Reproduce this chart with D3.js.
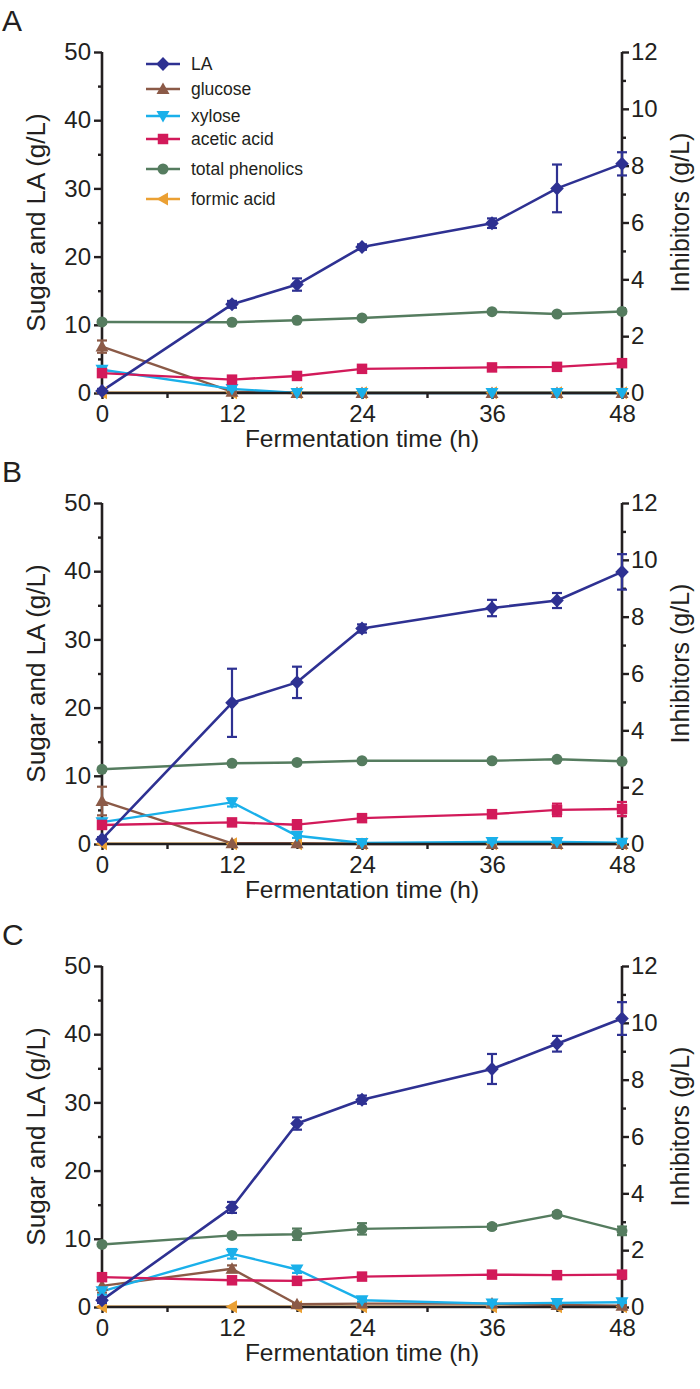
<!DOCTYPE html>
<html><head><meta charset="utf-8">
<script src="https://cdn.jsdelivr.net/npm/d3@7"></script>
<style>
html,body{margin:0;padding:0;background:#fff;}
svg text{font-family:"Liberation Sans",Arial,sans-serif;fill:#231f20;}
</style></head>
<body><svg id="chart" width="700" height="1389"></svg>
<script>
// ---------- data ----------
const times = [0, 12, 18, 24, 36, 42, 48];
const xTicks = [0, 12, 24, 36, 48];
const leftTicks = [0, 10, 20, 30, 40, 50];
const rightTicks = [0, 2, 4, 6, 8, 10, 12];
const panelLetters = ["A", "B", "C"];
const seriesNames = ["LA", "glucose", "xylose", "acetic acid", "total phenolics", "formic acid"];

// Panel A
const laA = [0.3, 13.0, 15.9, 21.4, 24.9, 30.0, 33.6];
const laErrA = [0.3, 0.5, 0.9, 0.4, 0.7, 3.5, 1.7];
const glucoseA = [6.8, 0.2, 0, 0, 0, 0, 0];
const glucoseErrA = [0.9, 0.1, 0, 0, 0, 0, 0];
const xyloseA = [3.4, 0.6, 0, 0, 0, 0, 0];
const xyloseErrA = [0.4, 0.1, 0, 0, 0, 0, 0];
const aceticA = [0.70, 0.47, 0.60, 0.85, 0.90, 0.92, 1.05];
const aceticErrA = [0.08, 0.05, 0.05, 0.06, 0.1, 0.1, 0.06];
const phenolicsA = [2.50, 2.49, 2.56, 2.64, 2.86, 2.78, 2.87];
const phenolicsErrA = [0.06, 0.04, 0.03, 0.03, 0.04, 0.05, 0.06];
const formicA = [0.01, 0.01, 0.01, 0.01, 0.01, 0.01, 0.01];

// Panel B
const laB = [0.7, 20.7, 23.7, 31.6, 34.6, 35.7, 39.9];
const laErrB = [0.3, 5.0, 2.3, 0.6, 1.2, 1.1, 2.6];
const glucoseB = [6.3, 0.1, 0.1, 0, 0, 0, 0];
const glucoseErrB = [2.1, 0, 0, 0, 0, 0, 0];
const xyloseB = [3.2, 6.1, 1.2, 0.15, 0.3, 0.3, 0.2];
const xyloseErrB = [0.5, 0.6, 0.3, 0.1, 0.1, 0.1, 0.1];
const aceticB = [0.67, 0.76, 0.68, 0.91, 1.05, 1.20, 1.23];
const aceticErrB = [0.12, 0.1, 0.16, 0.06, 0.07, 0.22, 0.25];
const phenolicsB = [2.63, 2.84, 2.87, 2.93, 2.93, 2.98, 2.91];
const phenolicsErrB = [0.05, 0.05, 0.04, 0.04, 0.04, 0.04, 0.04];
const formicB = [0.01, 0.01, 0.01, 0.01, 0.01, 0.01, 0.01];

// Panel C
const laC = [1.0, 14.6, 26.9, 30.4, 34.9, 38.6, 42.3];
const laErrC = [0.4, 0.8, 0.9, 0.6, 2.2, 1.15, 2.4];
const glucoseC = [3.1, 5.6, 0.4, 0.5, 0.5, 0.3, 0.2];
const glucoseErrC = [1.0, 0.5, 0.1, 0.1, 0.1, 0.1, 0.1];
const xyloseC = [2.3, 7.8, 5.5, 1.0, 0.5, 0.6, 0.7];
const xyloseErrC = [0.5, 0.7, 0.5, 0.2, 0.1, 0.1, 0.1];
const aceticC = [1.05, 0.94, 0.92, 1.07, 1.14, 1.12, 1.14];
const aceticErrC = [0.05, 0.05, 0.04, 0.04, 0.04, 0.04, 0.04];
const phenolicsC = [2.20, 2.52, 2.56, 2.75, 2.83, 3.26, 2.68];
const phenolicsErrC = [0.05, 0.05, 0.2, 0.2, 0.08, 0.08, 0.15];
const formicC = [0.01, 0.01, 0.01, 0.01, 0.01, 0.01, 0.01];

// ---------- styles ----------
const colors = {"LA":"#2e3192","glucose":"#8b5a47","xylose":"#1ab0ea","acetic acid":"#d21a5a","total phenolics":"#557c5f","formic acid":"#eba033"};
const axisSide = {"LA":"L","glucose":"L","xylose":"L","acetic acid":"R","total phenolics":"R","formic acid":"R"};

function markerPath(name) {
  switch (name) {
    case "LA": return "M0,-7L6.8,0L0,7L-6.8,0Z";
    case "glucose": return "M0,-6.5L6.5,5L-6.5,5Z";
    case "xylose": return "M0,6.5L6.5,-5L-6.5,-5Z";
    case "acetic acid": return d3.symbol(d3.symbolSquare, 110)();
    case "total phenolics": return d3.symbol(d3.symbolCircle, 95)();
    default: return "M-6.5,0L5,-6.5L5,6.5Z";
  }
}

const panels = [
  {letter: panelLetters[0], top: 52, legend: true,
   vals: [laA, glucoseA, xyloseA, aceticA, phenolicsA, formicA],
   errs: [laErrA, glucoseErrA, xyloseErrA, aceticErrA, phenolicsErrA, null]},
  {letter: panelLetters[1], top: 503, legend: false,
   vals: [laB, glucoseB, xyloseB, aceticB, phenolicsB, formicB],
   errs: [laErrB, glucoseErrB, xyloseErrB, aceticErrB, phenolicsErrB, null]},
  {letter: panelLetters[2], top: 966, legend: false,
   vals: [laC, glucoseC, xyloseC, aceticC, phenolicsC, formicC],
   errs: [laErrC, glucoseErrC, xyloseErrC, aceticErrC, phenolicsErrC, null]}
];

const L = 102, R = 622, H = 341;
const svg = d3.select("#chart");
const ink = "#231f20";
const FONT = '"Liberation Sans",Arial,sans-serif';

panels.forEach(p => {
  const g = svg.append("g").attr("transform", `translate(0,${p.top})`);
  const x = d3.scaleLinear().domain([0, 48]).range([L, R]);
  const yL = d3.scaleLinear().domain([0, 50]).range([H, 0]);
  const yR = d3.scaleLinear().domain([0, 12]).range([H, 0]);
  const yOf = n => axisSide[n] === "L" ? yL : yR;

  const order = [5, 1, 2, 3, 4, 0];
  order.forEach(i => {
    const n = seriesNames[i];
    const y = yOf(n);
    const line = d3.line().x((d, j) => x(times[j])).y(d => y(d));
    g.append("path").datum(p.vals[i]).attr("d", line)
      .attr("fill", "none").attr("stroke", colors[n])
      .attr("stroke-width", n === "LA" ? 2.6 : 2.4).attr("stroke-linejoin", "round");
  });

  const ax = g.append("g").attr("transform", `translate(0,${H})`)
    .call(d3.axisBottom(x).tickValues(xTicks).tickSize(6).tickPadding(6).tickFormat(d3.format("d")));
  const axm = g.append("g").attr("transform", `translate(0,${H})`)
    .call(d3.axisBottom(x).tickValues([6, 18, 30, 42]).tickSize(5).tickFormat(""));
  const al = g.append("g").attr("transform", `translate(${L},0)`)
    .call(d3.axisLeft(yL).tickValues(leftTicks).tickSize(8).tickPadding(3));
  const alm = g.append("g").attr("transform", `translate(${L},0)`)
    .call(d3.axisLeft(yL).tickValues([5, 15, 25, 35, 45]).tickSize(4).tickFormat(""));
  const ar = g.append("g").attr("transform", `translate(${R},0)`)
    .call(d3.axisRight(yR).tickValues(rightTicks).tickSize(7).tickPadding(2));
  const arm = g.append("g").attr("transform", `translate(${R},0)`)
    .call(d3.axisRight(yR).tickValues([1, 3, 5, 7, 9, 11]).tickSize(4).tickFormat(""));
  [ax, axm, al, alm, ar, arm].forEach(a => {
    a.selectAll(".domain").attr("stroke", ink).attr("stroke-width", 2.6);
    a.selectAll(".tick line").attr("stroke", ink).attr("stroke-width", 2.4);
    a.selectAll(".tick text").attr("font-size", 24).style("font-family", FONT).attr("fill", ink);
  });
  [axm, alm, arm].forEach(a => a.select(".domain").remove());
  ax.select(".domain").attr("d", `M${L},0H${R}`);
  al.select(".domain").attr("d", `M0,0V${H}`);
  ar.select(".domain").attr("d", `M0,0V${H}`);

  order.forEach(i => {
    const n = seriesNames[i];
    const y = yOf(n);
    const c = colors[n];
    const e = p.errs[i];
    if (e) {
      p.vals[i].forEach((v, j) => {
        if (!e[j]) return;
        const cx = x(times[j]);
        const y1 = y(v + e[j]), y2 = y(Math.max(0, v - e[j]));
        g.append("line").attr("x1", cx).attr("x2", cx).attr("y1", y1).attr("y2", y2).attr("stroke", c).attr("stroke-width", 2.2);
        [y1, y2].forEach(yy => g.append("line").attr("x1", cx - 5).attr("x2", cx + 5).attr("y1", yy).attr("y2", yy).attr("stroke", c).attr("stroke-width", 2.2));
      });
    }
    g.selectAll(null).data(p.vals[i]).enter().append("path")
      .attr("d", markerPath(n))
      .attr("transform", (d, j) => `translate(${x(times[j])},${y(d)})`)
      .attr("fill", c);
  });

  svg.append("text").attr("x", 2).attr("y", p.top - 21).attr("font-size", 30).text(p.letter);

  g.append("text").attr("x", (L + R) / 2).attr("y", H + 54).attr("text-anchor", "middle")
    .attr("font-size", 24.5).text("Fermentation time (h)");
  g.append("text").attr("transform", `translate(45,${H / 2}) rotate(-90)`).attr("text-anchor", "middle")
    .attr("font-size", 26).text("Sugar and LA (g/L)");
  g.append("text").attr("transform", `translate(689,${H / 2 - 10}) rotate(-90)`).attr("text-anchor", "middle")
    .attr("font-size", 25).text("Inhibitors (g/L)");

  if (p.legend) {
    const rows = [12, 37, 64, 87, 117, 147];
    seriesNames.forEach((n, i) => {
      const yy = rows[i];
      g.append("line").attr("x1", 146).attr("x2", 180).attr("y1", yy).attr("y2", yy).attr("stroke", colors[n]).attr("stroke-width", 2.4);
      g.append("path").attr("d", markerPath(n))
        .attr("transform", `translate(163,${yy})`).attr("fill", colors[n]);
      g.append("text").attr("x", 191).attr("y", yy + 6).attr("font-size", 17.5).text(n);
    });
  }
});
</script></body></html>
